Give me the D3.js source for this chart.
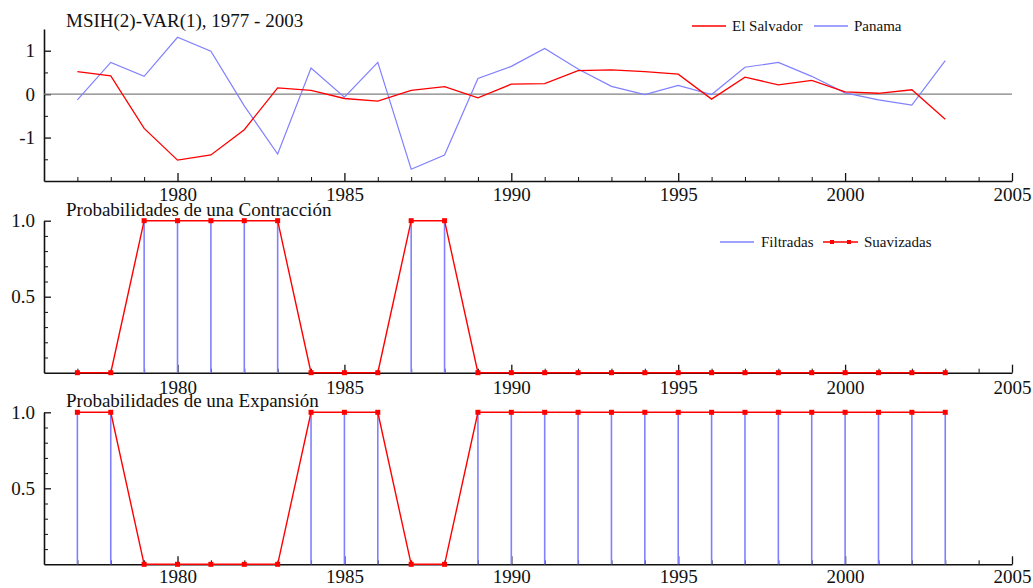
<!DOCTYPE html>
<html>
<head>
<meta charset="utf-8">
<script src="https://cdn.jsdelivr.net/npm/d3@7"></script>
<style>
  body { margin: 0; background: #fff; }
  svg text { font-family: "Liberation Serif", "Times New Roman", serif; fill: #111; }
</style>
</head>
<body>
<div id="chart"></div>
<script>
// datos
const years = [1977, 1978, 1979, 1980, 1981, 1982, 1983, 1984, 1985, 1986, 1987, 1988, 1989, 1990,
               1991, 1992, 1993, 1994, 1995, 1996, 1997, 1998, 1999, 2000, 2001, 2002, 2003];
const elSalvador = [0.52, 0.42, -0.79, -1.52, -1.40, -0.82, 0.145, 0.085, -0.10, -0.16, 0.085, 0.175, -0.085, 0.23,
                    0.24, 0.54, 0.56, 0.52, 0.46, -0.115, 0.39, 0.215, 0.315, 0.05, 0.02, 0.10, -0.58];
const panama = [-0.13, 0.73, 0.41, 1.31, 0.99, -0.27, -1.38, 0.60, -0.07, 0.73, -1.73, -1.40, 0.36, 0.64,
                1.05, 0.58, 0.18, -0.01, 0.20, -0.01, 0.62, 0.73, 0.41, 0.03, -0.13, -0.25, 0.77];
const contrFiltradas = [0, 0, 1, 1, 1, 1, 1, 0, 0, 0, 1, 1, 0, 0, 0, 0, 0, 0, 0, 0, 0, 0, 0, 0, 0, 0, 0];
const contrSuavizadas = [0, 0, 1, 1, 1, 1, 1, 0, 0, 0, 1, 1, 0, 0, 0, 0, 0, 0, 0, 0, 0, 0, 0, 0, 0, 0, 0];
const expFiltradas = [1, 1, 0, 0, 0, 0, 0, 1, 1, 1, 0, 0, 1, 1, 1, 1, 1, 1, 1, 1, 1, 1, 1, 1, 1, 1, 1];
const expSuavizadas = [1, 1, 0, 0, 0, 0, 0, 1, 1, 1, 0, 0, 1, 1, 1, 1, 1, 1, 1, 1, 1, 1, 1, 1, 1, 1, 1];
const yearTicks = [1980, 1985, 1990, 1995, 2000, 2005];
const minorYears = [1977, 1978, 1979, 1981, 1982, 1983, 1984, 1986, 1987, 1988, 1989, 1991, 1992, 1993,
                    1994, 1996, 1997, 1998, 1999, 2001, 2002, 2003, 2004];

const width = 1033, height = 588;
const RED = "#ff0000", BLUE = "#8080ff";
const FONT = "Liberation Serif, Times New Roman, serif";

const svg = d3.select("#chart").append("svg")
    .attr("width", width)
    .attr("height", height);

const x = d3.scaleLinear().domain([1976, 2005]).range([44, 1012]);

// dibuja ejes de un panel
function drawAxes(y, majorY, minorY, fmt, labelPad) {
    const y0 = y.range()[0];
    const g = svg.append("g");

    // ticks menores de años
    g.append("g").attr("transform", `translate(0,${y0})`)
        .call(d3.axisBottom(x).tickValues(minorYears).tickSize(-4).tickSizeOuter(0).tickFormat(""))
        .call(a => a.select(".domain").remove());
    g.append("g").attr("transform", `translate(0,${y0})`)
        .attr("font-family", FONT)
        .call(d3.axisBottom(x).tickValues(yearTicks).tickSize(-8).tickSizeOuter(0).tickPadding(labelPad).tickFormat(d3.format("d")))
        .call(a => a.select(".domain").attr("stroke-width", 1.6))
        .call(a => a.selectAll(".tick line").attr("stroke-width", 1.3))
        .call(a => a.selectAll("text").attr("font-size", 19).style("font-family", FONT));

    g.append("g").attr("transform", `translate(${x.range()[0]},0)`)
        .call(d3.axisLeft(y).tickValues(minorY).tickSize(-4).tickSizeOuter(0).tickFormat(""))
        .call(a => a.select(".domain").remove());
    g.append("g").attr("transform", `translate(${x.range()[0]},0)`)
        .attr("font-family", FONT)
        .call(d3.axisLeft(y).tickValues(majorY).tickSize(-7).tickSizeOuter(0).tickPadding(9).tickFormat(fmt))
        .call(a => a.select(".domain").attr("stroke-width", 1.6))
        .call(a => a.selectAll(".tick line").attr("stroke-width", 1.3))
        .call(a => a.selectAll("text").attr("font-size", 19).style("font-family", FONT));
    g.selectAll("path.domain, line").attr("stroke", "#111");
}

function title(txt, yPos) {
    svg.append("text").attr("x", 66).attr("y", yPos).attr("font-size", 19).text(txt);
}

// ---------- panel 1 ----------
const y1 = d3.scaleLinear().domain([-2, 1.5]).range([181, 29]);
drawAxes(y1, [-1, 0, 1], [-1.5, -0.5, 0.5], d => String(d), 6.5);

svg.append("line")
    .attr("x1", x(1976)).attr("x2", x(2005))
    .attr("y1", y1(0)).attr("y2", y1(0))
    .attr("stroke", "#808080").attr("stroke-width", 1.2);

const line1 = d3.line().x((d, i) => x(years[i])).y(d => y1(d));
svg.append("path").datum(panama).attr("d", line1)
    .attr("fill", "none").attr("stroke", BLUE).attr("stroke-width", 1.2);
svg.append("path").datum(elSalvador).attr("d", line1)
    .attr("fill", "none").attr("stroke", RED).attr("stroke-width", 1.3);

title("MSIH(2)-VAR(1), 1977 - 2003", 26.5);

const leg1 = [
    { name: "El Salvador", color: RED, x: 692 },
    { name: "Panama", color: BLUE, x: 814 }
];
leg1.forEach(l => {
    svg.append("line").attr("x1", l.x).attr("x2", l.x + 34).attr("y1", 26).attr("y2", 26)
        .attr("stroke", l.color).attr("stroke-width", 1.3);
    svg.append("text").attr("x", l.x + 40).attr("y", 26).attr("dy", "0.33em")
        .attr("font-size", 15).text(l.name);
});

// ---------- paneles de probabilidades ----------
function probPanel(top, filt, suav, name, pad) {
    const y = d3.scaleLinear().domain([0, 1]).range([top + 152, top]);
    drawAxes(y, [0.5, 1.0], [0.1, 0.2, 0.3, 0.4, 0.6, 0.7, 0.8, 0.9], d3.format(".1f"), pad);

    svg.append("g").selectAll("line")
        .data(filt)
        .join("line")
        .attr("x1", (d, i) => x(years[i])).attr("x2", (d, i) => x(years[i]))
        .attr("y1", y(0)).attr("y2", d => y(d))
        .attr("stroke", BLUE).attr("stroke-width", 1.6);

    const ln = d3.line().x((d, i) => x(years[i])).y(d => y(d));
    svg.append("path").datum(suav).attr("d", ln)
        .attr("fill", "none").attr("stroke", RED).attr("stroke-width", 1.4);
    svg.append("g").selectAll("rect")
        .data(suav)
        .join("rect")
        .attr("x", (d, i) => x(years[i]) - 2.5).attr("y", d => y(d) - 2.5)
        .attr("width", 5).attr("height", 5)
        .attr("fill", RED);

    title(name, top - 5);
}

probPanel(220.7, contrFiltradas, contrSuavizadas, "Probabilidades de una Contracción", 7.5);
probPanel(412.3, expFiltradas, expSuavizadas, "Probabilidades de una Expansión", 5.5);

// leyenda del panel 2
svg.append("line").attr("x1", 720).attr("x2", 754).attr("y1", 242).attr("y2", 242)
    .attr("stroke", BLUE).attr("stroke-width", 1.3);
svg.append("text").attr("x", 761).attr("y", 242).attr("dy", "0.33em")
    .attr("font-size", 15).text("Filtradas");
svg.append("line").attr("x1", 823).attr("x2", 858).attr("y1", 242).attr("y2", 242)
    .attr("stroke", RED).attr("stroke-width", 1.4);
[832, 849].forEach(cx => {
    svg.append("rect").attr("x", cx - 2).attr("y", 240).attr("width", 4).attr("height", 4).attr("fill", RED);
});
svg.append("text").attr("x", 864).attr("y", 242).attr("dy", "0.33em")
    .attr("font-size", 15).text("Suavizadas");
</script>
</body>
</html>
